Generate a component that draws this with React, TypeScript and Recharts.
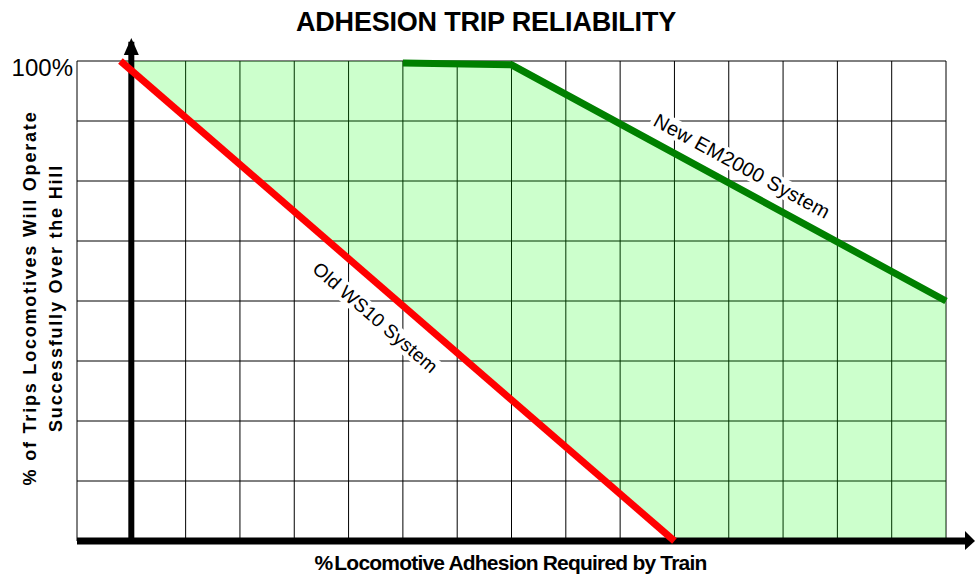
import React from 'react';
import {
  ComposedChart, Line, Area, XAxis, YAxis, CartesianGrid, ReferenceLine, ReferenceDot
} from 'recharts';

// grid columns / rows
const xTicks = [0, 1, 2, 3, 4, 5, 6, 7, 8, 9, 10, 11, 12, 13, 14, 15, 16];
const yTicks = [0, 12.5, 25, 37.5, 50, 62.5, 75, 87.5, 100];

// Old WS10 System (red)
const oldX = [0.8, 11];
const oldY = [100, 0];

// New EM2000 System (green)
const newX = [6, 8, 16];
const newY = [99.6, 99.2, 50];

// shaded band between the two systems
const bandX = [0.8, 6, 8, 11, 16];
const bandLow = [100, 49, 29.4, 0, 0];
const bandHigh = [100, 100, 100, 80.6, 50];

const oldData = oldX.map((x, i) => ({ x, y: oldY[i] }));
const newData = newX.map((x, i) => ({ x, y: newY[i] }));
const bandData = bandX.map((x, i) => ({ x, range: [bandLow[i], bandHigh[i]] }));

const font = '"Liberation Sans", Arial, sans-serif';

const UpArrow = (p: any) => (
  <polygon points={`${p.cx - 7.5},${p.cy - 6} ${p.cx + 7.5},${p.cy - 6} ${p.cx},${p.cy - 23}`} fill="#000" />
);
const RightArrow = (p: any) => (
  <polygon points={`${p.cx + 19},${p.cy - 10} ${p.cx + 19},${p.cy + 9} ${p.cx + 29},${p.cy}`} fill="#000" />
);

const lineLabel: React.CSSProperties = {
  position: 'absolute',
  fontFamily: font,
  background: '#fff',
  padding: '0 3px',
  lineHeight: '20px',
  whiteSpace: 'nowrap',
  color: '#000',
};

const App: React.FC = () => {
  return (
    <div style={{ position: 'absolute', left: 0, top: 0, width: 975, height: 576, background: '#fff', fontFamily: font }}>
      <div style={{ position: 'absolute', left: 0, width: 975, top: 5, textAlign: 'center' }}>
        <span style={{ display: 'inline-block', marginLeft: -3, fontSize: 27, fontWeight: 'bold', lineHeight: '34px', letterSpacing: -0.2 }}>
          ADHESION TRIP RELIABILITY
        </span>
      </div>

      <ComposedChart width={975} height={576} margin={{ top: 61, right: 29, bottom: 35, left: 0 }}>
        <CartesianGrid stroke="#000" strokeWidth={1} />
        <XAxis type="number" dataKey="x" domain={[0, 16]} ticks={xTicks} hide />
        <YAxis
          type="number"
          domain={[0, 100]}
          ticks={yTicks}
          width={77}
          axisLine={false}
          tickLine={false}
          tickSize={0}
          tickMargin={4}
          tickFormatter={(v: number) => (v === 100 ? '100%' : '')}
          tick={{ fontSize: 24, fill: '#000', fontFamily: font, dy: 6 }}
        />
        <Area
          data={bandData}
          dataKey="range"
          type="linear"
          stroke="none"
          fill="#00ff00"
          fillOpacity={0.2}
          isAnimationActive={false}
        />
        <ReferenceLine segment={[{ x: 1, y: 0 }, { x: 1, y: 104 }]} stroke="#000" strokeWidth={6} ifOverflow="visible" />
        <ReferenceLine segment={[{ x: 0, y: 0 }, { x: 16.36, y: 0 }]} stroke="#000" strokeWidth={7} ifOverflow="visible" />
        <ReferenceDot x={1} y={100} r={0} shape={UpArrow} ifOverflow="visible" />
        <ReferenceDot x={16} y={0} r={0} shape={RightArrow} ifOverflow="visible" />
        <Line data={oldData} dataKey="y" type="linear" stroke="#ff0000" strokeWidth={7} dot={false} isAnimationActive={false} />
        <Line data={newData} dataKey="y" type="linear" stroke="#008000" strokeWidth={7} dot={false} isAnimationActive={false} />
      </ComposedChart>

      <div style={{ ...lineLabel, fontSize: 19, letterSpacing: 0.2, left: 375, top: 318, transform: 'translate(-50%, -50%) rotate(40.8deg)' }}>
        Old WS10 System
      </div>
      <div style={{ ...lineLabel, fontSize: 20, letterSpacing: 0.3, left: 742, top: 166, transform: 'translate(-50%, -50%) rotate(28.6deg)' }}>
        New EM2000 System
      </div>

      <div
        style={{
          position: 'absolute',
          left: 43,
          top: 298,
          transform: 'translate(-50%, -50%) rotate(-90deg)',
          textAlign: 'center',
          fontSize: 18,
          fontWeight: 'bold',
          letterSpacing: 1.8,
          lineHeight: '26px',
          whiteSpace: 'nowrap',
        }}
      >
        % of Trips Locomotives Will Operate
        <br />
        Successfully Over the Hill
      </div>

      <div
        style={{
          position: 'absolute',
          left: 0,
          width: 975,
          top: 550,
          textAlign: 'center',
          fontSize: 21,
          fontWeight: 'bold',
          letterSpacing: -0.8,
          lineHeight: '26px',
        }}
      >
        <span style={{ display: 'inline-block', marginLeft: 46 }}>
          %<span style={{ marginLeft: 2 }}>Locomotive Adhesion Required by Train</span>
        </span>
      </div>
    </div>
  );
};

export default App;
